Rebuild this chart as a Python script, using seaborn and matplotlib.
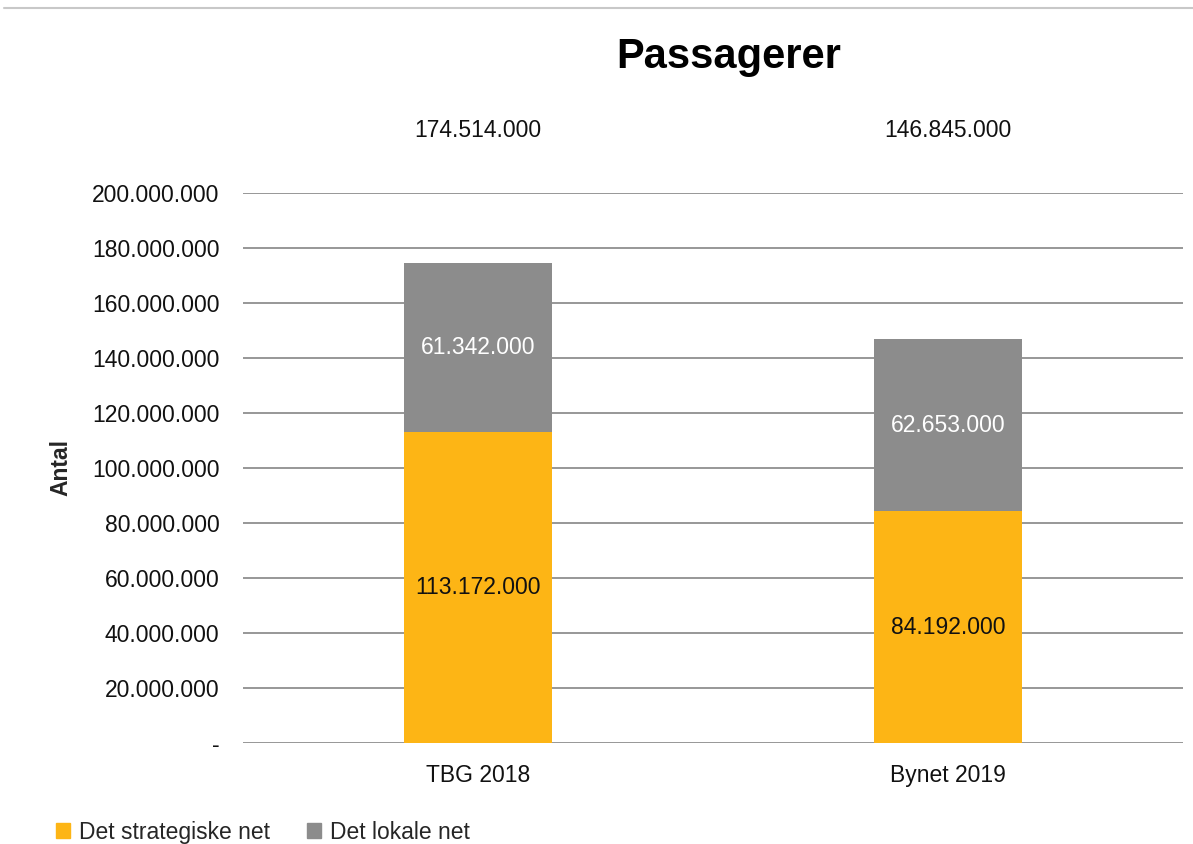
import matplotlib
matplotlib.use("Agg")
import matplotlib.pyplot as plt
import matplotlib.ticker as mticker
from matplotlib.lines import Line2D
from matplotlib.patches import Patch
import pandas as pd
import seaborn as sns

categories = ["TBG 2018", "Bynet 2019"]
strategisk = [113172000, 84192000]
lokal = [61342000, 62653000]
totals = [s + l for s, l in zip(strategisk, lokal)]

orange = "#FDB515"
gray = "#8C8C8C"

sns.set_theme(style="white")
plt.rcParams["font.family"] = ["Liberation Sans", "DejaVu Sans"]

df = pd.DataFrame({"kat": categories, "strategisk": strategisk,
                   "lokal": lokal, "total": totals})

fig = plt.figure(figsize=(11.93, 8.44), dpi=100)
ax = fig.add_axes([0.2037, 0.1197, 0.7879, 0.6516])

# total (grey) first, strategic (orange) drawn over it
sns.barplot(data=df, x="kat", y="total", color=gray, width=0.313,
            saturation=1, linewidth=0, ax=ax, zorder=3)
sns.barplot(data=df, x="kat", y="strategisk", color=orange, width=0.313,
            saturation=1, linewidth=0, ax=ax, zorder=3)

ax.set_ylim(0, 200000000)
ax.set_xlim(-0.5, 1.5)
ax.yaxis.set_major_locator(mticker.MultipleLocator(20000000))

def fmt(v, pos):
    if v == 0:
        return "-"
    return f"{int(v):,}".replace(",", ".")

fs = 16.5
ax.yaxis.set_major_formatter(mticker.FuncFormatter(fmt))
ax.grid(axis="y", color="#858585", linewidth=1.2, zorder=0)
ax.set_axisbelow(True)
for s in ax.spines.values():
    s.set_visible(False)
ax.tick_params(axis="both", length=0, labelsize=fs, colors="#111111")
ax.tick_params(axis="y", pad=17)
ax.tick_params(axis="x", pad=15)
ax.set_xlabel("")
ax.set_ylabel("Antal", fontsize=fs, fontweight="bold")
ax.yaxis.set_label_coords(-0.182, 0.5)

# segment labels
for i in range(len(categories)):
    ax.text(i, strategisk[i] / 2, fmt(strategisk[i], None), ha="center",
            va="center", fontsize=fs, color="#111111", zorder=5)
    ax.text(i, strategisk[i] + lokal[i] / 2, fmt(lokal[i], None), ha="center",
            va="center", fontsize=fs, color="white", zorder=5)
    ax.text(i, 1.114, fmt(totals[i], None), ha="center", va="center",
            fontsize=fs, color="#111111",
            transform=ax.get_xaxis_transform(), clip_on=False)

fig.text(0.611, 0.933, "Passagerer", ha="center", va="center",
         fontsize=30, fontweight="bold", color="black")

handles = [Patch(color=orange), Patch(color=gray)]
fig.legend(handles, ["Det strategiske net", "Det lokale net"],
           loc="center left", bbox_to_anchor=(0.03, 0.014), ncol=2,
           frameon=False, fontsize=fs, handlelength=0.6, handleheight=0.6,
           handletextpad=0.4, columnspacing=1.6)

fig.add_artist(Line2D([0.003, 1.0], [0.99, 0.99], color="#C8C8C8",
                      linewidth=1.5, transform=fig.transFigure))

fig.savefig("out.png", dpi=100)
